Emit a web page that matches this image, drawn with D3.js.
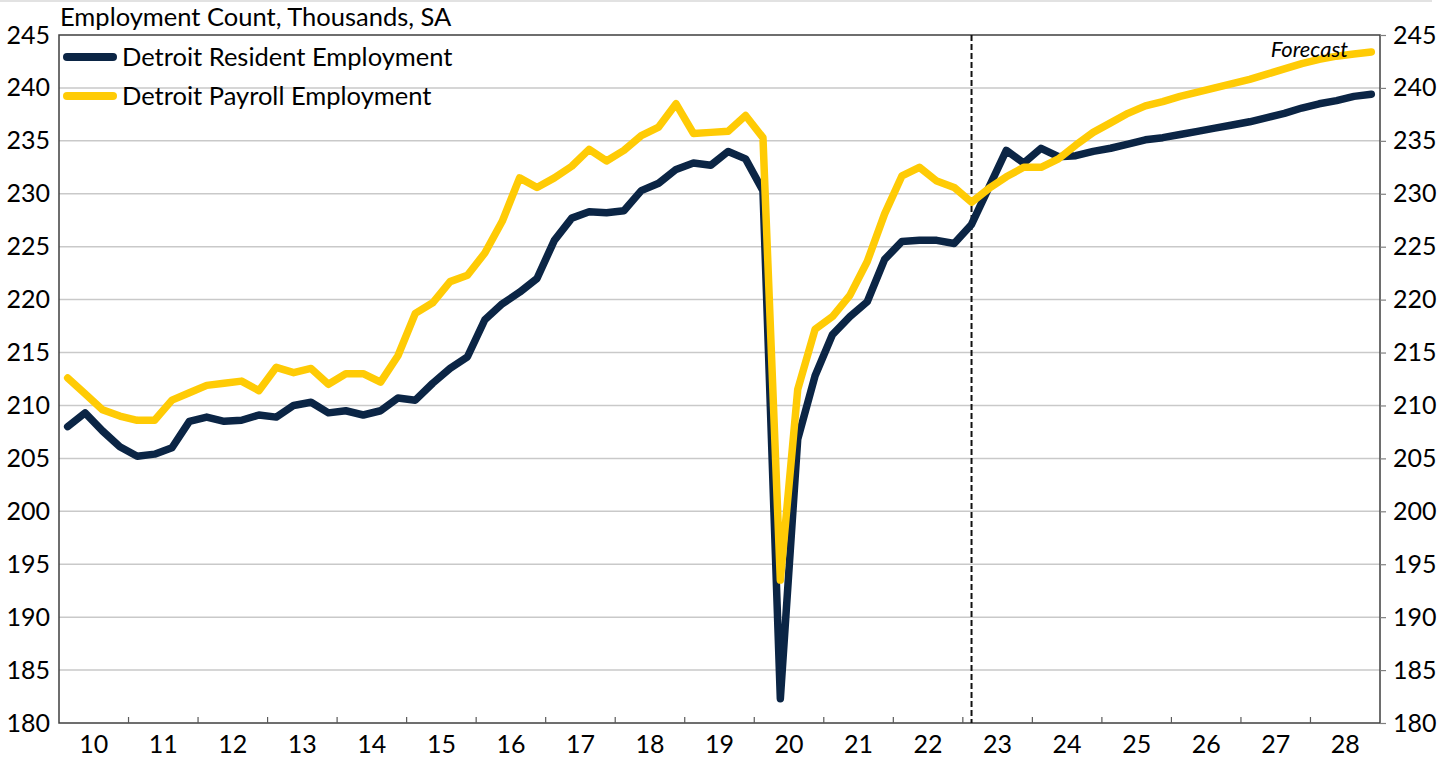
<!DOCTYPE html>
<html>
<head>
<meta charset="utf-8">
<script src="https://cdn.jsdelivr.net/npm/d3@7"></script>
<style>
	html, body { margin: 0; padding: 0; background: #fff; }
	svg { display: block; font-family: "Lato", "Noto Sans", sans-serif; }
</style>
</head>
<body>
<svg width="1450" height="757"></svg>
<script>
// quarters 2010Q1 .. 2028Q4
var years = d3.range(2010, 2029);
var quarters = [];
years.forEach(function(y){ [1,2,3,4].forEach(function(q){ quarters.push(y + "Q" + q); }); });

var residentEmp = [
	208.0, 209.3, 207.6, 206.1, 205.2, 205.4, 206.0, 208.5,
	208.9, 208.5, 208.6, 209.1, 208.9, 210.0, 210.3, 209.3,
	209.5, 209.1, 209.5, 210.7, 210.5, 212.1, 213.5, 214.6,
	218.1, 219.6, 220.7, 222.0, 225.6, 227.7, 228.3, 228.2,
	228.4, 230.3, 231.0, 232.3, 232.9, 232.7, 234.0, 233.3,
	230.3, 182.3, 206.8, 212.8, 216.7, 218.4, 219.8, 223.8,
	225.5, 225.6, 225.6, 225.3, 227.1, 230.6, 234.1, 232.9,
	234.3, 233.5, 233.6, 234.0, 234.3, 234.7, 235.1, 235.3,
	235.6, 235.9, 236.2, 236.5, 236.8, 237.2, 237.6, 238.1,
	238.5, 238.8, 239.2, 239.4
];

var payrollEmp = [
	212.6, 211.1, 209.6, 209.0, 208.6, 208.6, 210.5, 211.2,
	211.9, 212.1, 212.3, 211.4, 213.6, 213.1, 213.5, 212.0,
	213.0, 213.0, 212.2, 214.7, 218.7, 219.7, 221.7, 222.3,
	224.4, 227.4, 231.5, 230.6, 231.5, 232.6, 234.2, 233.1,
	234.1, 235.5, 236.3, 238.5, 235.7, 235.8, 235.9, 237.4,
	235.3, 193.5, 211.5, 217.2, 218.4, 220.4, 223.6, 228.1,
	231.7, 232.5, 231.2, 230.6, 229.2, 230.5, 231.6, 232.5,
	232.5, 233.3, 234.6, 235.8, 236.7, 237.6, 238.3, 238.7,
	239.2, 239.6, 240.0, 240.4, 240.8, 241.3, 241.8, 242.3,
	242.7, 243.0, 243.2, 243.4
];

var yTicks = [180, 185, 190, 195, 200, 205, 210, 215, 220, 225, 230, 235, 240, 245];
var forecastStart = "2023Q1";
var seriesNames = ["Detroit Resident Employment", "Detroit Payroll Employment"];
var seriesColors = ["#0b2545", "#ffcb05"];

(function(){
	var svg = d3.select("svg"),
		margin = {top: 35, right: 70, bottom: 34, left: 59},
		width = +svg.attr("width") - margin.left - margin.right,
		height = +svg.attr("height") - margin.top - margin.bottom;

	// page frame line at top
	svg.append("line")
		.attr("x1", 0).attr("x2", 1432).attr("y1", 1).attr("y2", 1)
		.attr("stroke", "#d9d9d9").attr("stroke-width", 1.5);

	var g = svg.append("g")
		.attr("transform", "translate(" + margin.left + "," + margin.top + ")");

	var x = d3.scaleLinear().domain([2010, 2029]).range([0, width]);
	var y = d3.scaleLinear().domain([180, 245]).range([height, 0]);

	var qx = function(q){
		var yr = +q.slice(0, 4), n = +q.slice(5);
		return x(yr + (n - 0.5) / 4);
	};

	// gridlines
	g.append("g")
		.selectAll("line")
		.data(yTicks.filter(function(d){ return d > 180 && d < 245; }))
		.enter().append("line")
			.attr("x1", 0).attr("x2", width)
			.attr("y1", function(d){ return y(d); })
			.attr("y2", function(d){ return y(d); })
			.attr("stroke", "#c9c9c9").attr("stroke-width", 1.5);

	// frame
	g.append("rect")
		.attr("width", width).attr("height", height)
		.attr("fill", "none").attr("stroke", "#3f3f3f").attr("stroke-width", 1.5);

	// left axis labels (no ticks)
	var yl = g.append("g")
		.call(d3.axisLeft(y).tickValues(yTicks).tickSize(0).tickPadding(9));
	yl.select(".domain").remove();

	var yr = g.append("g")
		.attr("transform", "translate(" + width + ",0)")
		.call(d3.axisRight(y).tickValues(yTicks).tickSize(6).tickPadding(7));
	yr.select(".domain").remove();
	yr.selectAll("line").attr("stroke", "#7f7f7f").attr("stroke-width", 1.2);

	g.selectAll(".tick text")
		.attr("font-size", 25)
		.attr("font-family", "Lato, 'Noto Sans', sans-serif")
		.attr("fill", "#000");

	// x axis: labels centered on years, ticks at year boundaries inward
	var xg = g.append("g").attr("transform", "translate(0," + height + ")");
	xg.selectAll("line")
		.data(years.slice(1))
		.enter().append("line")
			.attr("x1", function(d){ return x(d); })
			.attr("x2", function(d){ return x(d); })
			.attr("y1", 0).attr("y2", -6)
			.attr("stroke", "#5a5a5a").attr("stroke-width", 1.2);
	xg.selectAll("text")
		.data(years)
		.enter().append("text")
			.attr("x", function(d){ return x(d + 0.5); })
			.attr("y", 30)
			.attr("text-anchor", "middle")
			.attr("font-size", 25)
			.text(function(d){ return String(d).slice(2); });

	// forecast divider
	g.append("line")
		.attr("x1", qx(forecastStart)).attr("x2", qx(forecastStart))
		.attr("y1", 0).attr("y2", height)
		.attr("stroke", "#111").attr("stroke-width", 2)
		.attr("stroke-dasharray", "6,3");

	var line = d3.line()
		.x(function(d, i){ return qx(quarters[i]); })
		.y(function(d){ return y(d); });

	[residentEmp, payrollEmp].forEach(function(s, k){
		g.append("path")
			.datum(s)
			.attr("fill", "none")
			.attr("stroke", seriesColors[k])
			.attr("stroke-width", 7.5)
			.attr("stroke-linejoin", "round")
			.attr("stroke-linecap", "round")
			.attr("d", line);
	});

	g.append("text")
		.attr("x", width - 32).attr("y", 22)
		.attr("text-anchor", "end")
		.attr("font-size", 22)
		.attr("font-style", "italic")
		.text("Forecast");

	// title
	svg.append("text")
		.attr("x", 60).attr("y", 26)
		.attr("font-size", 25.5)
		.text("Employment Count, Thousands, SA");

	// legend
	var leg = svg.append("g");
	seriesNames.forEach(function(n, k){
		var ly = 57 + k * 39;
		leg.append("line")
			.attr("x1", 67).attr("x2", 113)
			.attr("y1", ly).attr("y2", ly)
			.attr("stroke", seriesColors[k])
			.attr("stroke-width", 8)
			.attr("stroke-linecap", "round");
		leg.append("text")
			.attr("x", 122).attr("y", ly + 9)
			.attr("font-size", 25.5)
			.text(n);
	});
})();
</script>
</body>
</html>
